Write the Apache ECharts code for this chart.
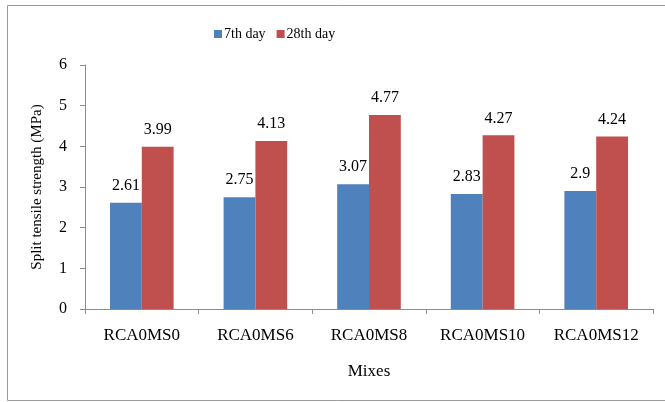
<!DOCTYPE html>
<html>
<head>
<meta charset="utf-8">
<script src="https://cdn.jsdelivr.net/npm/echarts@6/dist/echarts.min.js"></script>
<style>
  html, body { margin: 0; padding: 0; background: #fff; }
  #chart { width: 665px; height: 402px; }
</style>
</head>
<body>
<div id="chart"></div>
<script>
// Split tensile strength of the mixes at 7 and 28 days
const mixes = ['RCA0MS0', 'RCA0MS6', 'RCA0MS8', 'RCA0MS10', 'RCA0MS12'];
const day7 = [2.61, 2.75, 3.07, 2.83, 2.9];
const day28 = [3.99, 4.13, 4.77, 4.27, 4.24];
const seriesNames = ['7th day', '28th day'];

const font = 'Liberation Serif, Times New Roman, serif';
const chart = echarts.init(document.getElementById('chart'), null, { renderer: 'canvas' });

const labelStyle = {
  show: true,
  position: 'top',
  distance: 9,
  color: '#000',
  fontFamily: font,
  fontSize: 16
};

chart.setOption({
  animation: false,
  backgroundColor: '#fff',
  textStyle: { fontFamily: font },
  graphic: [{
    type: 'rect',
    shape: { x: 7.5, y: 5.5, width: 670, height: 395 },
    style: { fill: 'none', stroke: '#9a9a9a', lineWidth: 1 },
    silent: true,
    z: -1
  }],
  legend: {
    data: seriesNames,
    top: 22,
    left: 209,
    itemWidth: 8,
    itemHeight: 8,
    itemGap: 11,
    icon: 'rect',
    textStyle: { fontFamily: font, fontSize: 14, color: '#000', padding: [0, 0, 0, -3] }
  },
  grid: { left: 85, right: 12, top: 65, bottom: 93, containLabel: false },
  xAxis: {
    type: 'category',
    data: mixes,
    name: 'Mixes',
    nameLocation: 'middle',
    nameGap: 54,
    nameTextStyle: { fontFamily: font, fontSize: 17, color: '#000' },
    axisLine: { lineStyle: { color: '#8c8c8c' } },
    axisTick: { show: true, alignWithLabel: false, length: 5, lineStyle: { color: '#8c8c8c' } },
    axisLabel: { fontFamily: font, fontSize: 17, color: '#000', margin: 18 }
  },
  yAxis: {
    type: 'value',
    min: 0,
    max: 6,
    interval: 1,
    name: 'Split tensile strength (MPa)',
    nameLocation: 'middle',
    nameGap: 40,
    nameTextStyle: { fontFamily: font, fontSize: 15, color: '#000' },
    axisLine: { show: true, lineStyle: { color: '#8c8c8c' } },
    axisTick: { show: true, length: 5, lineStyle: { color: '#8c8c8c' } },
    axisLabel: { fontFamily: font, fontSize: 16, color: '#000', margin: 18 },
    splitLine: { show: false }
  },
  series: [
    {
      name: seriesNames[0],
      type: 'bar',
      data: day7,
      barGap: '0%',
      barCategoryGap: '44%',
      itemStyle: { color: '#4F81BD' },
      label: labelStyle
    },
    {
      name: seriesNames[1],
      type: 'bar',
      data: day28,
      itemStyle: { color: '#C0504D' },
      label: labelStyle
    }
  ]
});
</script>
</body>
</html>
